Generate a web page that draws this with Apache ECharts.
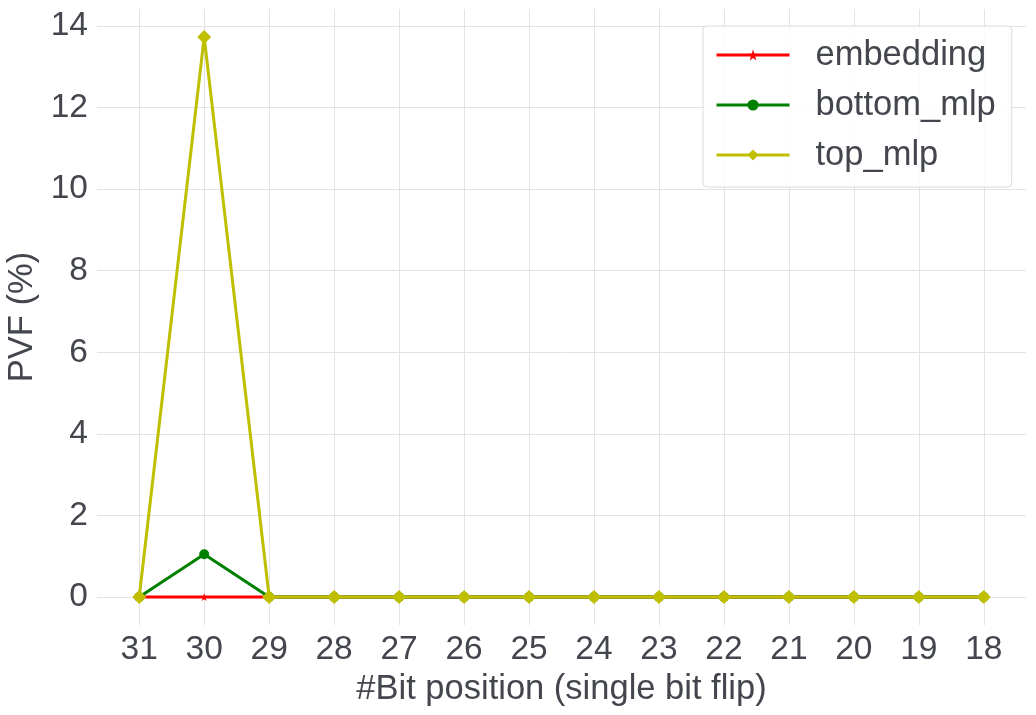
<!DOCTYPE html>
<html>
<head>
<meta charset="utf-8">
<script src="https://cdn.jsdelivr.net/npm/echarts@6/dist/echarts.min.js"></script>
<style>
  html, body { margin: 0; padding: 0; background: #fff; }
  #chart { width: 1036px; height: 715px; }
</style>
</head>
<body>
<div id="chart"></div>
<script>
  // bit positions (x categories)
  const bitLabels = [31, 30, 29, 28, 27, 26, 25, 24, 23, 22, 21, 20, 19, 18];
  // PVF (%) per series
  const embedding = [0, 0, 0, 0, 0, 0, 0, 0, 0, 0, 0, 0, 0, 0];
  const bottomMlp = [0, 1.05, 0, 0, 0, 0, 0, 0, 0, 0, 0, 0, 0, 0];
  const topMlp = [0, 13.73, 0, 0, 0, 0, 0, 0, 0, 0, 0, 0, 0, 0];
  const yTicks = [0, 2, 4, 6, 8, 10, 12, 14];

  const textColor = '#43464d';
  const font = 'Liberation Sans';
  const xIdx = bitLabels.map((b, i) => i);
  const pts = arr => arr.map((v, i) => [i, v]);
  const star = 'path://M50,0 L61,35 L98,35 L68,57 L79,91 L50,70 L21,91 L32,57 L2,35 L39,35 Z';

  let option = {
    backgroundColor: '#fff',
    animation: false,
    grid: { left: 97, right: 10, top: 9, bottom: 90, containLabel: false, outerBoundsMode: 'none' },
    legend: {
      orient: 'vertical',
      left: 703,
      top: 26,
      padding: [11, 16, 14, 12],
      itemWidth: 73,
      itemHeight: 14,
      itemGap: 14,
      backgroundColor: 'rgba(255,255,255,0.85)',
      borderColor: '#dcdcdc',
      borderWidth: 1,
      borderRadius: 4,
      lineStyle: { width: 3 },
      textStyle: { fontFamily: font, fontSize: 34.5, color: textColor, lineHeight: 36, padding: [0, 0, 0, 21] },
      data: ['embedding', 'bottom_mlp', 'top_mlp']
    },
    xAxis: {
      type: 'value',
      min: -0.65,
      max: 13.65,
      name: '#Bit position (single bit flip)',
      nameLocation: 'middle',
      nameGap: 45,
      nameTextStyle: { fontFamily: font, fontSize: 34.5, color: textColor },
      axisLine: { show: false },
      axisTick: { show: false, customValues: xIdx },
      axisLabel: {
        customValues: xIdx,
        margin: 8,
        fontFamily: font, fontSize: 33.5, color: textColor,
        formatter: v => bitLabels[Math.round(v)]
      },
      splitLine: { show: true, lineStyle: { color: '#e3e3e3', width: 1 } }
    },
    yAxis: {
      type: 'value',
      min: -0.6865,
      max: 14.417,
      name: 'PVF (%)',
      nameLocation: 'middle',
      nameGap: 57,
      nameTextStyle: { fontFamily: font, fontSize: 34.5, color: textColor },
      axisLine: { show: false },
      axisTick: { show: false, customValues: yTicks },
      axisLabel: {
        customValues: yTicks,
        margin: 9,
        fontFamily: font, fontSize: 33.5, color: textColor
      },
      splitLine: { show: true, lineStyle: { color: '#e3e3e3', width: 1 } }
    },
    series: [
      {
        name: 'embedding', type: 'line', data: pts(embedding),
        symbol: star, symbolSize: 8,
        lineStyle: { color: '#ff0000', width: 3 },
        itemStyle: { color: '#ff0000' }
      },
      {
        name: 'bottom_mlp', type: 'line', data: pts(bottomMlp),
        symbol: 'circle', symbolSize: 10,
        lineStyle: { color: '#008000', width: 3 },
        itemStyle: { color: '#008000' }
      },
      {
        name: 'top_mlp', type: 'line', data: pts(topMlp),
        symbol: 'diamond', symbolSize: 14,
        lineStyle: { color: '#bfbf00', width: 3 },
        itemStyle: { color: '#bfbf00' }
      }
    ]
  };
  let myChart = echarts.init(document.getElementById('chart'));
  myChart.setOption(option);
</script>
</body>
</html>
